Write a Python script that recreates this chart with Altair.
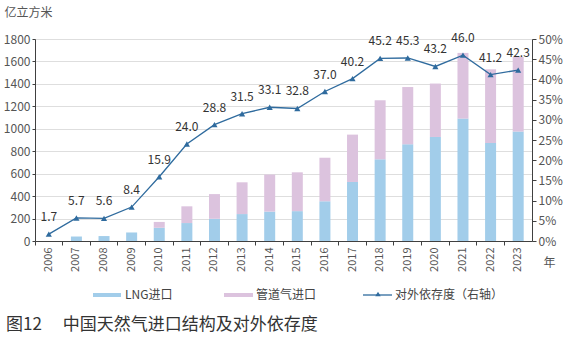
import altair as alt
import pandas as pd

years = [str(y) for y in range(2006, 2024)]
lng = [0, 40, 44, 76, 118, 160, 198, 240, 262, 266, 354, 526, 728, 862, 927, 1091, 873, 975]
total = [0, 40, 44, 76, 170, 309, 418, 523, 592, 612, 742, 948, 1254, 1372, 1403, 1676, 1530, 1640]
pipe = [t - l for t, l in zip(total, lng)]
pct = [1.7, 5.7, 5.6, 8.4, 15.9, 24.0, 28.8, 31.5, 33.1, 32.8, 37.0, 40.2, 45.2, 45.3, 43.2, 46.0, 41.2, 42.3]
series = ["LNG进口", "管道气进口"]
line_name = "对外依存度（右轴）"
chart_title = "图12\u3000 中国天然气进口结构及对外依存度"
y_unit = "亿立方米"
x_unit = "年"

FONT = "Noto Sans CJK SC"
C_LNG = "#a2cdea"
C_PIPE = "#dcc3de"
C_LINE = "#2f6b9e"
AX = "#404040"
LAB = "#555555"

bars_df = pd.DataFrame({
    "year": years * 2,
    "value": lng + pipe,
    "series": [series[0]] * len(years) + [series[1]] * len(years),
    "ord": [0] * len(years) + [1] * len(years),
})
line_df = pd.DataFrame({"year": years, "pct": pct, "lab": [f"{v:.1f}" for v in pct]})

xenc = alt.X("year:N", sort=years,
             scale=alt.Scale(paddingInner=0, paddingOuter=0),
             axis=alt.Axis(title=x_unit, titleAngle=0, titleX=508, titleY=21, titleAlign="left",
                           titleBaseline="middle", titleFontSize=12, titleFontWeight="normal",
                           titleColor=LAB, titleFont=FONT,
                           labelAngle=-90, labelAlign="right", labelBaseline="middle",
                           labelFontSize=11, labelColor=LAB, labelFont=FONT, labelPadding=2,
                           tickSize=4, tickColor=AX, domainColor=AX, bandPosition=0,
                           ticks=True, grid=False))

bars = alt.Chart(bars_df).mark_bar(size=11).encode(
    x=xenc,
    y=alt.Y("value:Q", stack="zero",
            scale=alt.Scale(domain=[0, 1800], nice=False),
            axis=alt.Axis(orient="left", values=list(range(0, 1801, 200)), title=y_unit, format="d",
                          titleAngle=0, titleX=-31, titleY=-27, titleAlign="left",
                          titleBaseline="middle", titleFontSize=12, titleFontWeight="normal",
                          titleColor=LAB, titleFont=FONT,
                          labelFontSize=12, labelColor=LAB, labelFont=FONT, labelPadding=2,
                          tickSize=3, tickColor=AX, domainColor=AX,
                          grid=True, gridColor="#dedede")),
    color=alt.Color("series:N", scale=alt.Scale(domain=series, range=[C_LNG, C_PIPE]), legend=None),
    order=alt.Order("ord:Q"),
)

ry = alt.Y("pct:Q", scale=alt.Scale(domain=[0, 50], nice=False),
           axis=alt.Axis(orient="right", values=list(range(0, 51, 5)), title=None,
                         labelExpr="datum.value + '%'",
                         labelFontSize=12, labelColor=LAB, labelFont=FONT, labelPadding=2,
                         tickSize=4, tickColor=AX, domainColor=AX, grid=False))

base_line = alt.Chart(line_df).encode(x=alt.X("year:N", sort=years), y=ry)
line = base_line.mark_line(color=C_LINE, strokeWidth=1.3)
pts = base_line.mark_point(shape="triangle-up", filled=True, size=38, color=C_LINE, opacity=1)
txt = base_line.mark_text(dy=-17, fontSize=12, font=FONT, color="#333333").encode(text="lab:N")

right = alt.layer(line, pts, txt)

one = pd.DataFrame({"k": [0]})
def sw(x1, x2, y1, y2, color):
    return alt.Chart(one).mark_rect(color=color).encode(
        x=alt.value(x1), x2=alt.value(x2), y=alt.value(y1), y2=alt.value(y2))
def tx(x, y, s, size, color):
    return alt.Chart(one).mark_text(align="left", baseline="middle", fontSize=size, font=FONT,
                                     color=color).encode(x=alt.value(x), y=alt.value(y), text=alt.value(s))

leg = [
    sw(58, 86, 254, 258, C_LNG),
    tx(90, 256, series[0], 12, "#444444"),
    sw(189, 218, 254, 258, C_PIPE),
    tx(221, 256, series[1], 12, "#444444"),
    alt.Chart(one).mark_rule(color=C_LINE, strokeWidth=1.3).encode(
        x=alt.value(328), x2=alt.value(357), y=alt.value(256)),
    alt.Chart(one).mark_point(shape="triangle-up", filled=True, size=30, color=C_LINE, opacity=1).encode(
        x=alt.value(343), y=alt.value(255)),
    tx(360, 256, line_name, 12, "#444444"),
    tx(-29, 286, chart_title, 17, "#333333"),
]

chart = alt.layer(bars, right, *leg).resolve_scale(y="independent", x="shared").properties(
    width=497, height=202,
    autosize=alt.AutoSizeParams(type="none"),
    padding={"left": 35, "top": 39, "right": 44, "bottom": 96},
).configure_view(stroke=None).configure(background="white")

chart.save("out.html", embed_options={"renderer": "svg", "actions": False})
